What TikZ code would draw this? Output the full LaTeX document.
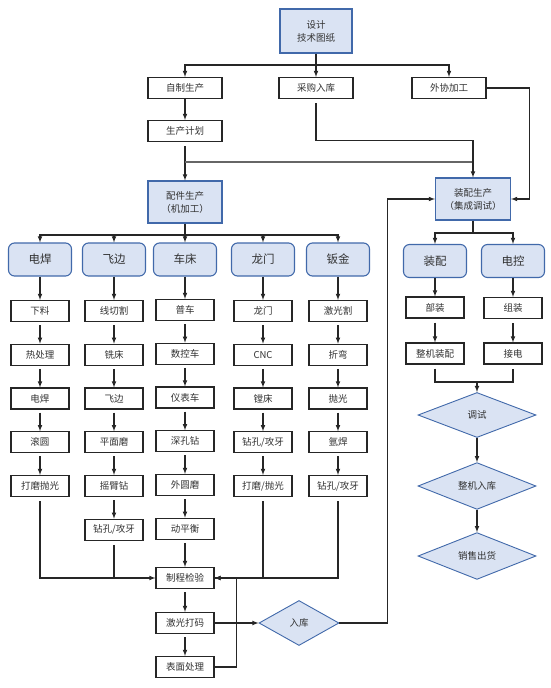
\documentclass[tikz,border=0pt]{standalone}
\usepackage{fontspec}
\setmainfont{Noto Sans CJK SC}
\usetikzlibrary{shapes.geometric}

\definecolor{bluefill}{RGB}{218,227,243}
\definecolor{blueline}{RGB}{65,105,170}
\definecolor{textgray}{RGB}{50,50,50}

\tikzset{
  headbox/.style={draw=blueline, fill=bluefill, line width=1.1pt, minimum width=74pt, minimum height=42pt, inner sep=0pt, align=center, text=textgray, font=\fontsize{9.5}{13}\selectfont},
  groupbox/.style={draw=blueline, fill=bluefill, line width=1.1pt, rounded corners=6pt, minimum width=63pt, minimum height=33pt, inner sep=0pt, text=textgray, font=\fontsize{11.5}{13}\selectfont},
  stepbox/.style={draw=black!85, fill=white, line width=1.1pt, minimum width=58pt, minimum height=21pt, inner sep=0pt, text=textgray, font=\fontsize{9.5}{11}\selectfont},
  checkbox/.style={diamond, draw=blueline, fill=bluefill, line width=0.9pt, inner sep=0pt, text=textgray, font=\fontsize{9.5}{11}\selectfont},
  flow/.style={line width=1.1pt, black!85, ->, >=latex},
  link/.style={line width=1.1pt, black!85},
}

\begin{document}
\begin{tikzpicture}[x=1pt,y=-1pt]
\useasboundingbox (0,0) rectangle (551,688);

\def\rowgap{43.75};

% design and sourcing
\node[headbox, minimum width=72pt, minimum height=44pt] (design) at (316,31) {设计\\技术图纸};
\node[stepbox, minimum width=74pt] (self) at (185,88) {自制生产};
\node[stepbox, minimum width=74pt] (buy) at (316,88) {采购入库};
\node[stepbox, minimum width=74pt] (outs) at (449,88) {外协加工};
\node[stepbox, minimum width=74pt] (plan) at (185,131) {生产计划};
\node[headbox] (parts) at (185,202) {配件生产\\（机加工）};
\node[headbox, minimum width=75pt] (asm) at (473,199) {装配生产\\（集成调试）};

\coordinate (topjoin) at (316,65);
\draw[link] (design.south) -- (topjoin);
\draw[flow] (topjoin) -| (self.north);
\draw[flow] (topjoin) -| (outs.north);
\draw[flow] (topjoin) -- (buy.north);
\draw[flow] (self) -- (plan);
\draw[flow, shorten <=4pt] (plan.south) -- (parts.north);
\draw[line width=1.4pt, black!60] (185,162) -- (473,162);
\draw[flow, shorten <=4pt] (buy.south) -- ++(0,41.5) -| (asm.north);
\draw[flow] (outs.east) -- ++(43,0) |- (asm.east);

% machining columns
\coordinate (partsjoin) at (185,235);
\node[groupbox] (weld) at (40,259.5) {电焊};
\node[groupbox] (trim) at (114,259.5) {飞边};
\node[groupbox] (lathe) at (185,259.5) {车床};
\node[groupbox] (gantry) at (263,259.5) {龙门};
\node[groupbox] (sheet) at (338,259.5) {钣金};

\foreach \t [count=\i] in {下料,热处理,电焊,滚圆,打磨抛光}
  \node[stepbox] (weld\i) at (40,{311+(\i-1)*\rowgap}) {\t};
\foreach \t [count=\i] in {线切割,铣床,飞边,平面磨,摇臂钻,钻孔/攻牙}
  \node[stepbox] (trim\i) at (114,{311+(\i-1)*\rowgap}) {\t};
\foreach \t [count=\i] in {普车,数控车,仪表车,深孔钻,外圆磨,动平衡}
  \node[stepbox] (lathe\i) at (185,{310+(\i-1)*\rowgap}) {\t};
\foreach \t [count=\i] in {龙门,CNC,镗床,钻孔/攻牙,打磨/抛光}
  \node[stepbox] (gantry\i) at (263,{311+(\i-1)*\rowgap}) {\t};
\foreach \t [count=\i] in {激光割,折弯,抛光,氩焊,钻孔/攻牙}
  \node[stepbox] (sheet\i) at (338,{311+(\i-1)*\rowgap}) {\t};

\draw[link] (parts.south) -- (partsjoin);
\foreach \c in {weld,trim,lathe,gantry,sheet} {
  \draw[flow] (partsjoin) -| (\c.north);
  \draw[flow] (\c.south) -- (\c1.north);
  \foreach \i/\j in {1/2,2/3,3/4,4/5}
    \draw[flow, shorten <=3pt] (\c\i.south) -- (\c\j.north);
}
\draw[flow, shorten <=3pt] (trim5.south) -- (trim6.north);
\draw[flow, shorten <=3pt] (lathe5.south) -- (lathe6.north);

% inspection and storage
\node[stepbox] (check) at (185,578) {制程检验};
\node[stepbox] (mark) at (185,623) {激光打码};
\node[stepbox] (surf) at (185,667) {表面处理};
\node[checkbox, minimum width=80pt, minimum height=45pt] (store) at (299,623) {入库};

\draw[flow, shorten <=3pt] (lathe6.south) -- (check.north);
\draw[flow, shorten <=4pt] (weld5.south) |- (check.west);
\draw[link, shorten <=4pt] (trim6.south) -- (trim6.south |- check.west);
\draw[link, shorten <=4pt] (sheet5.south) |- (check.east);
\draw[flow, shorten <=4pt] (gantry5.south) |- (check.east);
\draw[flow, shorten <=3pt] (check.south) -- (mark.north);
\draw[flow, shorten <=3pt] (mark.south) -- (surf.north);
\draw[flow] (surf.east) -- ++(22,0) |- (check.east);
\draw[flow] (mark.east) -- (store.west);
\draw[flow] (store.east) -- ++(48,0) |- (asm.west);

% assembly
\coordinate (asmjoin) at (473,233);
\node[groupbox] (fit) at (435,261) {装配};
\node[groupbox] (ctrl) at (513,261) {电控};
\node[stepbox] (fit1) at (435,307.5) {部装};
\node[stepbox] (fit2) at (435,353.5) {整机装配};
\node[stepbox] (ctrl1) at (513,308) {组装};
\node[stepbox] (ctrl2) at (513,353.5) {接电};
\coordinate (mergejoin) at (477,382);
\node[checkbox, minimum width=118pt, minimum height=45pt] (test) at (477,415) {调试};
\node[checkbox, minimum width=118pt, minimum height=46pt] (stock) at (477,486) {整机入库};
\node[checkbox, minimum width=118pt, minimum height=45pt] (sell) at (477,556) {销售出货};

\draw[link] (asm.south) -- (asmjoin);
\draw[flow] (asmjoin) -| (fit.north);
\draw[flow] (asmjoin) -| (ctrl.north);
\draw[flow] (fit.south) -- (fit1.north);
\draw[flow] (ctrl.south) -- (ctrl1.north);
\draw[flow, shorten <=4pt] (fit1.south) -- (fit2.north);
\draw[flow, shorten <=4pt] (ctrl1.south) -- (ctrl2.north);
\draw[link, shorten <=4pt, shorten >=4pt] (fit2.south) |- (mergejoin) -| (ctrl2.south);
\draw[flow] (mergejoin) -- (test.north);
\draw[flow] (test.south) -- (stock.north);
\draw[flow] (stock.south) -- (sell.north);
\end{tikzpicture}
\end{document}
